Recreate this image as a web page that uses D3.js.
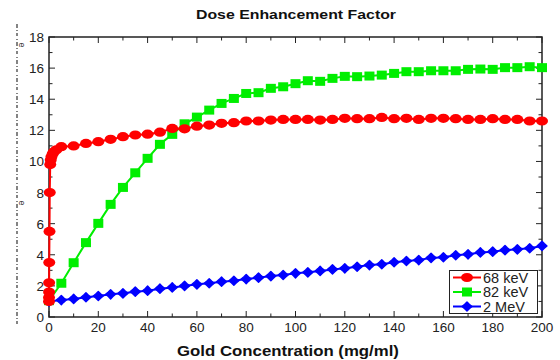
<!DOCTYPE html>
<html>
<head>
<meta charset="utf-8">
<script src="https://cdn.jsdelivr.net/npm/d3@7"></script>
<style>
  html, body { margin: 0; padding: 0; background: #fff; }
  svg { display: block; }
  text { font-family: "Liberation Sans", Arial, sans-serif; }
</style>
</head>
<body>
<script>
// Gold concentration (mg/ml) for each series
const conc68 = [0, 0.01, 0.02, 0.05, 0.1, 0.2, 0.3, 0.5, 0.7, 1, 1.5, 2, 3,
  5, 10, 15, 20, 25, 30, 35, 40, 45, 50, 55, 60, 65, 70, 75, 80, 85, 90, 95, 100,
  105, 110, 115, 120, 125, 130, 135, 140, 145, 150, 155, 160, 165, 170, 175, 180,
  185, 190, 195, 200];
const def68 = [1.0, 1.25, 1.6, 2.2, 3.5, 5.5, 8.0, 9.8, 10.1, 10.3, 10.5, 10.62, 10.75,
  10.95, 11.0, 11.16, 11.27, 11.42, 11.59, 11.7, 11.75, 11.88, 12.12, 12.1, 12.27, 12.34,
  12.45, 12.49, 12.6, 12.6, 12.66, 12.7, 12.7, 12.7, 12.66, 12.7, 12.77, 12.75, 12.75,
  12.83, 12.75, 12.77, 12.7, 12.77, 12.77, 12.75, 12.7, 12.7, 12.75, 12.7, 12.7, 12.6, 12.6];

const conc82 = [0, 5, 10, 15, 20, 25, 30, 35, 40, 45, 50, 55, 60, 65, 70, 75, 80, 85, 90,
  95, 100, 105, 110, 115, 120, 125, 130, 135, 140, 145, 150, 155, 160, 165, 170, 175,
  180, 185, 190, 195, 200];
const def82 = [1.05, 2.17, 3.49, 4.78, 6.02, 7.24, 8.33, 9.27, 10.2, 11.1, 11.74, 12.42,
  12.85, 13.3, 13.73, 14.05, 14.37, 14.42, 14.7, 14.8, 15.0, 15.19, 15.15, 15.34, 15.47,
  15.45, 15.49, 15.55, 15.66, 15.77, 15.77, 15.83, 15.83, 15.83, 15.92, 15.94, 15.92,
  16.03, 16.03, 16.09, 16.03];

const conc2M = conc82;
const def2M = [1.0, 1.09, 1.16, 1.27, 1.35, 1.46, 1.52, 1.63, 1.69, 1.82, 1.9, 2.0, 2.1,
  2.17, 2.27, 2.33, 2.44, 2.53, 2.63, 2.7, 2.81, 2.87, 2.96, 3.06, 3.13, 3.23, 3.34,
  3.39, 3.52, 3.6, 3.66, 3.8, 3.84, 3.97, 4.03, 4.15, 4.2, 4.3, 4.35, 4.42, 4.57];

const seriesNames = ["68 keV", "82 keV", "2 MeV"];
const xTicks = [0, 20, 40, 60, 80, 100, 120, 140, 160, 180, 200];
const yTicks = [0, 2, 4, 6, 8, 10, 12, 14, 16, 18];
const chartTitle = "Dose Enhancement Factor";
const xTitle = "Gold Concentration (mg/ml)";

const W = 560, H = 360;
const svg = d3.select("body").append("svg").attr("width", W).attr("height", H);

const x = d3.scaleLinear().domain([0, 200]).range([49, 542]);
const y = d3.scaleLinear().domain([0, 18]).range([317, 37]);

// Frame
const frame = svg.append("g").attr("stroke", "#222").attr("fill", "none");
frame.append("rect")
  .attr("x", x(0)).attr("y", y(18))
  .attr("width", x(200) - x(0)).attr("height", y(0) - y(18))
  .attr("stroke-width", 1.5);

// Inward ticks on all four sides
const xMinor = d3.range(0, 201, 10);
const yMinor = d3.range(0, 18.01, 1);
const tickG = svg.append("g").attr("stroke", "#222").attr("stroke-width", 1);
xMinor.forEach(v => {
  const len = v % 20 === 0 ? 6 : 3.5;
  tickG.append("line").attr("x1", x(v)).attr("x2", x(v)).attr("y1", y(0)).attr("y2", y(0) - len);
  tickG.append("line").attr("x1", x(v)).attr("x2", x(v)).attr("y1", y(18)).attr("y2", y(18) + len);
});
yMinor.forEach(v => {
  const len = v % 2 === 0 ? 6 : 3.5;
  tickG.append("line").attr("y1", y(v)).attr("y2", y(v)).attr("x1", x(0)).attr("x2", x(0) + len);
  tickG.append("line").attr("y1", y(v)).attr("y2", y(v)).attr("x1", x(200)).attr("x2", x(200) - len);
});

// Tick labels
svg.append("g").selectAll("text").data(xTicks).join("text")
  .attr("x", d => x(d)).attr("y", 332)
  .attr("text-anchor", "middle").attr("font-size", 13.5).attr("fill", "#222")
  .text(d => d);
svg.append("g").selectAll("text").data(yTicks).join("text")
  .attr("x", 44).attr("y", d => y(d) + 5)
  .attr("text-anchor", "end").attr("font-size", 13.5).attr("fill", "#222")
  .text(d => d);

// Titles (set slightly wide)
svg.append("text").attr("transform", "translate(296,19) scale(1.22,1)")
  .attr("text-anchor", "middle").attr("font-size", 13).attr("font-weight", "bold")
  .attr("fill", "#111").text(chartTitle);
svg.append("text").attr("transform", "translate(288,356) scale(1.12,1)")
  .attr("text-anchor", "middle").attr("font-size", 15).attr("font-weight", "bold")
  .attr("fill", "#111").text(xTitle);

// Broken vertical axis caption on the far left
svg.append("line").attr("x1", 17).attr("x2", 17).attr("y1", 24).attr("y2", 326)
  .attr("stroke", "#333").attr("stroke-width", 1.2)
  .attr("stroke-dasharray", "4,2,1,2,3,3,1,2");
[45, 203].forEach(py => {
  svg.append("text").attr("transform", `translate(19,${py}) rotate(90)`)
    .attr("font-size", 9).attr("fill", "#333").attr("text-anchor", "middle").text("e");
});

// Series
const line = d3.line().x(d => x(d[0])).y(d => y(d[1]));
const pts68 = conc68.map((c, i) => [c, def68[i]]);
const pts82 = conc82.map((c, i) => [c, def82[i]]);
const pts2M = conc2M.map((c, i) => [c, def2M[i]]);

const crossDiamond = "M0,-4.6 L2.3,-2.3 L5,0 L2.3,2.3 L0,4.6 L-2.3,2.3 L-5,0 L-2.3,-2.3 Z";

function drawRed(g, data) {
  g.selectAll("ellipse").data(data).join("ellipse")
    .attr("cx", d => x(d[0])).attr("cy", d => y(d[1]))
    .attr("rx", 6).attr("ry", 4.6).attr("fill", "#ff0000");
}
function drawGreen(g, data) {
  g.selectAll("rect").data(data).join("rect")
    .attr("x", d => x(d[0]) - 5).attr("y", d => y(d[1]) - 4.5)
    .attr("width", 10).attr("height", 9).attr("fill", "#00ee00");
}
function drawBlue(g, data) {
  g.selectAll("path").data(data).join("path")
    .attr("transform", d => `translate(${x(d[0])},${y(d[1])})`)
    .attr("d", crossDiamond).attr("fill", "#0000ff")
    .attr("stroke", "#0000ff").attr("stroke-width", 1.4).attr("stroke-linejoin", "round");
}

svg.append("path").datum(pts2M).attr("d", line)
  .attr("fill", "none").attr("stroke", "#0000ff").attr("stroke-width", 2);
drawBlue(svg.append("g"), pts2M);

svg.append("path").datum(pts82).attr("d", line)
  .attr("fill", "none").attr("stroke", "#00ee00").attr("stroke-width", 2);
drawGreen(svg.append("g"), pts82);

svg.append("path").datum(pts68).attr("d", line)
  .attr("fill", "none").attr("stroke", "#ff0000").attr("stroke-width", 2);
drawRed(svg.append("g"), pts68);

// Legend
const lg = svg.append("g");
lg.append("rect").attr("x", 449.5).attr("y", 270.5).attr("width", 88).attr("height", 43)
  .attr("fill", "#fff").attr("stroke", "#222").attr("stroke-width", 1);
const colors = ["#ff0000", "#00ee00", "#0000ff"];
const rowsY = [277.5, 292, 306.5];
seriesNames.forEach((name, i) => {
  const ry = rowsY[i];
  lg.append("line").attr("x1", 453).attr("x2", 481).attr("y1", ry).attr("y2", ry)
    .attr("stroke", colors[i]).attr("stroke-width", 2);
  const mx = 467;
  if (i === 0) {
    lg.append("ellipse").attr("cx", mx).attr("cy", ry).attr("rx", 6).attr("ry", 4.6).attr("fill", colors[i]);
  } else if (i === 1) {
    lg.append("rect").attr("x", mx - 5).attr("y", ry - 4.5).attr("width", 10).attr("height", 9).attr("fill", colors[i]);
  } else {
    lg.append("path").attr("transform", `translate(${mx},${ry})`).attr("d", crossDiamond)
      .attr("fill", colors[i]).attr("stroke", colors[i]).attr("stroke-width", 1.4).attr("stroke-linejoin", "round");
  }
  lg.append("text").attr("x", 483).attr("y", ry + 5).attr("font-size", 14.5)
    .attr("fill", "#222").text(name);
});
</script>
</body>
</html>
